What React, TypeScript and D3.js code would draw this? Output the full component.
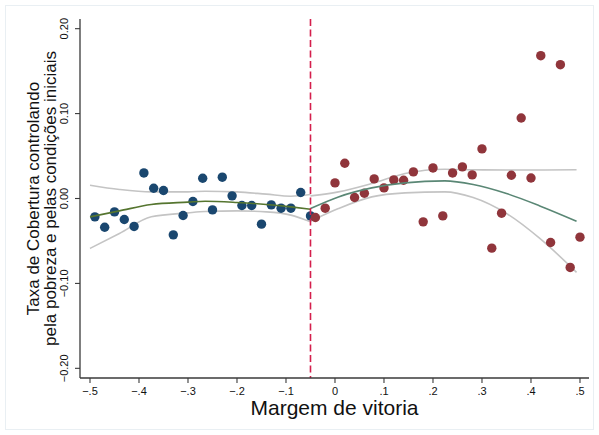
import React, { useEffect, useRef } from 'react';
import * as d3 from 'd3';

// binned scatter, left of cutoff
const leftX = [-0.49, -0.47, -0.45, -0.43, -0.41, -0.39, -0.37, -0.35, -0.33, -0.31, -0.29, -0.27,
    -0.25, -0.23, -0.21, -0.19, -0.17, -0.15, -0.13, -0.11, -0.09, -0.07, -0.05];
const leftY = [-0.0216, -0.0338, -0.0158, -0.0247, -0.0329, 0.0301, 0.0121, 0.0094, -0.0428, -0.0200,
    -0.0035, 0.0239, -0.0134, 0.0251, 0.0031, -0.0082, -0.0082, -0.0302, -0.0075, -0.0114, -0.0114,
    0.0071, -0.0205];

// binned scatter, right of cutoff
const rightX = [-0.04, -0.02, 0.0, 0.02, 0.04, 0.06, 0.08, 0.10, 0.12, 0.14, 0.16, 0.18, 0.20, 0.22,
    0.24, 0.26, 0.28, 0.30, 0.32, 0.34, 0.36, 0.38, 0.40, 0.42, 0.44, 0.46, 0.48, 0.50];
const rightY = [-0.0224, -0.0114, 0.0184, 0.0415, 0.0012, 0.0062, 0.0231, 0.0125, 0.0219, 0.0215,
    0.0313, -0.0275, 0.0360, -0.0205, 0.0301, 0.0372, 0.0278, 0.0584, -0.0585, -0.0173, 0.0274,
    0.0948, 0.0242, 0.1682, -0.0518, 0.1576, -0.0812, -0.0455];

// quadratic fit + CI
const fitLeftX = [-0.50, -0.44, -0.375, -0.30, -0.265, -0.20, -0.14, -0.09, -0.05];
const fitLeft = [-0.0216, -0.0146, -0.0071, -0.0043, -0.0032, -0.0047, -0.0071, -0.0099, -0.0126];
const ciLeftHi = [0.0156, 0.0106, 0.0078, 0.0078, 0.0086, 0.0078, 0.0051, 0.0027, 0.0047];
const ciLeftLo = [-0.0588, -0.0412, -0.0216, -0.0169, -0.0153, -0.0146, -0.0158, -0.0196, -0.0275];

const fitRightX = [-0.05, 0.007, 0.075, 0.143, 0.224, 0.282, 0.35, 0.418, 0.493];
const fitRight = [-0.0118, 0.0019, 0.0125, 0.0184, 0.0207, 0.0165, 0.0059, -0.0087, -0.0267];
const ciRightHi = [0.0031, 0.0078, 0.0176, 0.0294, 0.0345, 0.0338, 0.0336, 0.0336, 0.0338];
const ciRightLo = [-0.0267, -0.0118, 0.0019, 0.0066, 0.0078, 0.0012, -0.0176, -0.0470, -0.0870];

const cutoff = -0.05;
const xTicks = [-0.5, -0.4, -0.3, -0.2, -0.1, 0, 0.1, 0.2, 0.3, 0.4, 0.5];
const xTickLabels = ['\u2212.5', '\u2212.4', '\u2212.3', '\u2212.2', '\u2212.1', '0', '.1', '.2', '.3', '.4', '.5'];
const yTicks = [-0.2, -0.1, 0, 0.1, 0.2];
const yTickLabels = ['\u22120.20', '\u22120.10', '0.00', '0.10', '0.20'];

const FONT = '"Liberation Sans", Arial, Helvetica, sans-serif';

const App = () => {
    const svgRef = useRef<SVGSVGElement>(null);

    useEffect(() => {
        if (!svgRef.current) return;
        const svg = d3.select(svgRef.current);
        svg.selectAll('*').remove();

        const width = 599;
        const height = 435;
        const left = 80, right = 589, top = 19, bottom = 378;

        const x = d3.scaleLinear().domain([-0.5204, 0.5184]).range([left, right]);
        const y = d3.scaleLinear().domain([-0.2114, 0.2114]).range([bottom, top]);

        svg.attr('width', width).attr('height', height);

        // outer frame
        svg.append('rect')
            .attr('x', 5.5).attr('y', 5.5)
            .attr('width', width - 11).attr('height', height - 11)
            .attr('fill', 'white')
            .attr('stroke', '#e9eff3')
            .attr('stroke-width', 1);

        // CI bands (lines)
        const curve = (xs: number[], ys: number[]) =>
            d3.line<number>()
                .x((_, i) => x(xs[i]))
                .y(d => y(d))
                .curve(d3.curveMonotoneX)(ys);

        [[fitLeftX, ciLeftHi], [fitLeftX, ciLeftLo], [fitRightX, ciRightHi], [fitRightX, ciRightLo]]
            .forEach(([xs, ys]) => {
                svg.append('path')
                    .attr('d', curve(xs, ys))
                    .attr('fill', 'none')
                    .attr('stroke', '#c4c4c4')
                    .attr('stroke-width', 1.6);
            });

        // scatter
        svg.append('g').selectAll('circle')
            .data(leftX)
            .enter().append('circle')
            .attr('cx', d => x(d))
            .attr('cy', (_, i) => y(leftY[i]))
            .attr('r', 4.7)
            .attr('fill', '#1a476f');

        svg.append('g').selectAll('circle')
            .data(rightX)
            .enter().append('circle')
            .attr('cx', d => x(d))
            .attr('cy', (_, i) => y(rightY[i]))
            .attr('r', 4.7)
            .attr('fill', '#90353b');

        // fitted lines
        svg.append('path')
            .attr('d', curve(fitLeftX, fitLeft))
            .attr('fill', 'none')
            .attr('stroke', '#55752f')
            .attr('stroke-width', 1.6);

        svg.append('path')
            .attr('d', curve(fitRightX, fitRight))
            .attr('fill', 'none')
            .attr('stroke', '#5a8775')
            .attr('stroke-width', 1.6);

        // cutoff
        svg.append('line')
            .attr('x1', x(cutoff)).attr('x2', x(cutoff))
            .attr('y1', top).attr('y2', bottom)
            .attr('stroke', '#d41f4d')
            .attr('stroke-width', 1.6)
            .attr('stroke-dasharray', '7,3.5');

        // axes
        const axisColor = '#3a3a3a';
        svg.append('line')
            .attr('x1', left).attr('x2', left)
            .attr('y1', top).attr('y2', bottom)
            .attr('stroke', axisColor).attr('stroke-width', 1.3);
        svg.append('line')
            .attr('x1', left).attr('x2', right)
            .attr('y1', bottom).attr('y2', bottom)
            .attr('stroke', axisColor).attr('stroke-width', 1.3);

        const yg = svg.append('g');
        yTicks.forEach((t, i) => {
            yg.append('line')
                .attr('x1', left - 5).attr('x2', left)
                .attr('y1', y(t)).attr('y2', y(t))
                .attr('stroke', axisColor).attr('stroke-width', 1.1);
            yg.append('text')
                .attr('transform', `translate(68, ${y(t)}) rotate(-90)`)
                .attr('text-anchor', 'middle')
                .style('font-family', FONT)
                .style('font-size', '11px')
                .attr('fill', '#111')
                .text(yTickLabels[i]);
        });

        const xg = svg.append('g');
        xTicks.forEach((t, i) => {
            xg.append('line')
                .attr('x1', x(t)).attr('x2', x(t))
                .attr('y1', bottom).attr('y2', bottom + 5)
                .attr('stroke', axisColor).attr('stroke-width', 1.1);
            xg.append('text')
                .attr('x', x(t))
                .attr('y', 395)
                .attr('text-anchor', 'middle')
                .style('font-family', FONT)
                .style('font-size', '11px')
                .attr('fill', '#111')
                .text(xTickLabels[i]);
        });

        // titles
        svg.append('text')
            .attr('x', (left + right) / 2)
            .attr('y', 415)
            .attr('text-anchor', 'middle')
            .style('font-family', FONT)
            .style('font-size', '21px')
            .attr('fill', '#111')
            .text('Margem de vitoria');

        const yTitle = svg.append('text')
            .attr('transform', `translate(39, ${(top + bottom) / 2}) rotate(-90)`)
            .attr('text-anchor', 'middle')
            .style('font-family', FONT)
            .style('font-size', '17px')
            .attr('fill', '#111');
        yTitle.append('tspan').attr('x', 0).attr('y', 0).text('Taxa de Cobertura controlando');
        yTitle.append('tspan').attr('x', 0).attr('y', 17).text('pela pobreza e pelas condições iniciais');
    }, []);

    return (
        <div>
            <svg ref={svgRef} style={{ position: 'absolute', left: 0, top: 0, display: 'block' }}></svg>
        </div>
    );
};

export default App;
